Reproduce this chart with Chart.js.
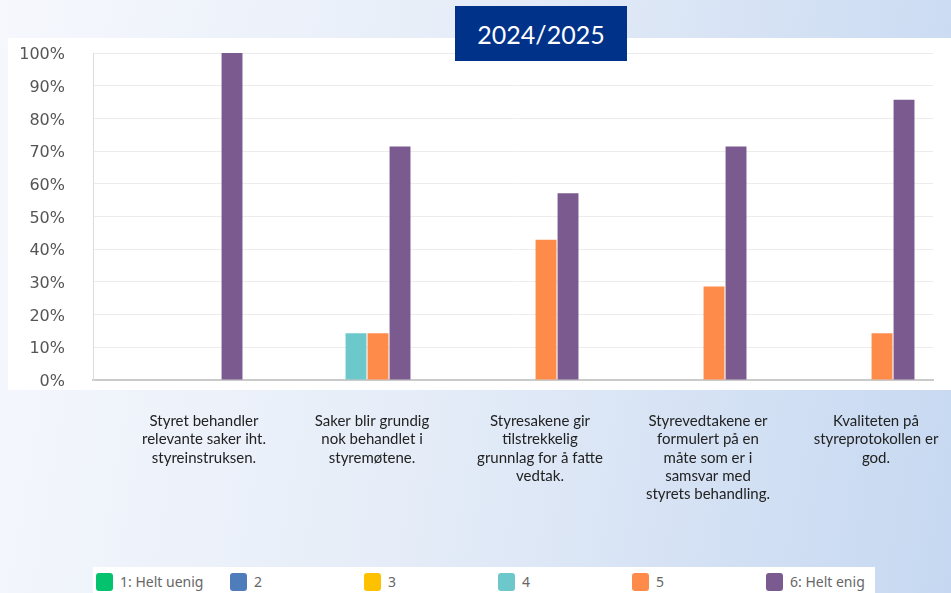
<!DOCTYPE html>
<html>
<head>
<meta charset="utf-8">
<script src="https://cdn.jsdelivr.net/npm/chart.js@4"></script>
<style>
  html, body { margin: 0; padding: 0; }
  body {
    width: 951px; height: 593px; overflow: hidden; position: relative;
    background: linear-gradient(100deg, #f6f8fd 0%, #e6edf8 45%, #c6d8f1 100%);
  }
  #panel { position: absolute; left: 8px; top: 38px; width: 943px; height: 352px; background: #fff; }
  #wrap { position: absolute; left: 0; top: 0; width: 951px; height: 593px; }
  #title {
    position: absolute; left: 455px; top: 6px; width: 172px; height: 55px;
    background: #00328a; color: #fff; font-family: Lato, sans-serif; font-size: 25px;
    display: flex; align-items: center; justify-content: center;
  }
  #legend {
    position: absolute; left: 93px; top: 567px; width: 782px; height: 26px; background: #fff;
    font-family: "Noto Sans", sans-serif; font-size: 14px; color: #666;
  }
  .item { position: absolute; top: 5px; display: flex; align-items: center; }
  .box { width: 17px; height: 18px; border-radius: 3px; margin-right: 7px; }
</style>
</head>
<body>
<div id="panel"></div>
<div id="wrap"><canvas id="chart"></canvas></div>
<div id="title">2024/2025</div>
<div id="legend"></div>
<script>
// spørsmål (kategorier)
var categories = [
  ["Styret behandler", "relevante saker iht.", "styreinstruksen."],
  ["Saker blir grundig", "nok behandlet i", "styremøtene."],
  ["Styresakene gir", "tilstrekkelig", "grunnlag for å fatte", "vedtak."],
  ["Styrevedtakene er", "formulert på en", "måte som er i", "samsvar med", "styrets behandling."],
  ["Kvaliteten på", "styreprotokollen er", "god."]
];
var seriesNames = ["1: Helt uenig", "2", "3", "4", "5", "6: Helt enig"];
var seriesColors = ["#05c26e", "#4f7cba", "#fdc100", "#6dc8cb", "#ff8b4a", "#7b5b8f"];

// andel svar i prosent
var helt_uenig = [0, 0, 0, 0, 0];
var svar2 = [0, 0, 0, 0, 0];
var svar3 = [0, 0, 0, 0, 0];
var svar4 = [0, 14.3, 0, 0, 0];
var svar5 = [0, 14.3, 42.9, 28.6, 14.3];
var helt_enig = [100, 71.4, 57.1, 71.4, 85.7];
var seriesValues = [helt_uenig, svar2, svar3, svar4, svar5, helt_enig];

var yTicks = [0, 10, 20, 30, 40, 50, 60, 70, 80, 90, 100];

var datasets = seriesNames.map(function (name, i) {
  return {
    label: name,
    data: seriesValues[i],
    backgroundColor: seriesColors[i],
    borderWidth: 0,
    categoryPercentage: 0.786,
    barPercentage: 0.95
  };
});

var ctx = document.getElementById("chart").getContext("2d");
var chart = new Chart(ctx, {
  type: 'bar',
  data: { labels: categories, datasets: datasets },
  options: {
    responsive: true,
    maintainAspectRatio: false,
    animation: false,
    layout: { padding: { top: 53, right: 18, left: 0, bottom: 0 } },
    plugins: { legend: { display: false }, tooltip: { enabled: false } },
    scales: {
      x: {
        grid: { display: false },
        border: { color: "#cacaca", width: 2 },
        ticks: {
          maxRotation: 0, autoSkip: false, padding: 24, labelOffset: 27,
          color: "#222", font: { family: "Lato", size: 15, lineHeight: 1.22 }
        },
        afterFit: function (s) { s.height = 213; }
      },
      y: {
        min: 0, max: 100,
        afterBuildTicks: function (s) { s.ticks = yTicks.map(function (v) { return { value: v }; }); },
        grid: { color: "#ececec", drawTicks: false },
        border: { color: "#dcdcdc" },
        ticks: {
          padding: 28, color: "#555", labelOffset: 2,
          font: { family: "DejaVu Sans", size: 16 },
          callback: function (v) { return v + "%"; }
        },
        afterFit: function (s) { s.width = 93; }
      }
    }
  }
});

// legend with fixed columns
var legend = document.getElementById("legend");
seriesNames.forEach(function (name, i) {
  var it = document.createElement("div");
  it.className = "item";
  it.style.left = (3 + i * 134) + "px";
  it.innerHTML = '<span class="box" style="background:' + seriesColors[i] + '"></span>' + name;
  legend.appendChild(it);
});
</script>
</body>
</html>
